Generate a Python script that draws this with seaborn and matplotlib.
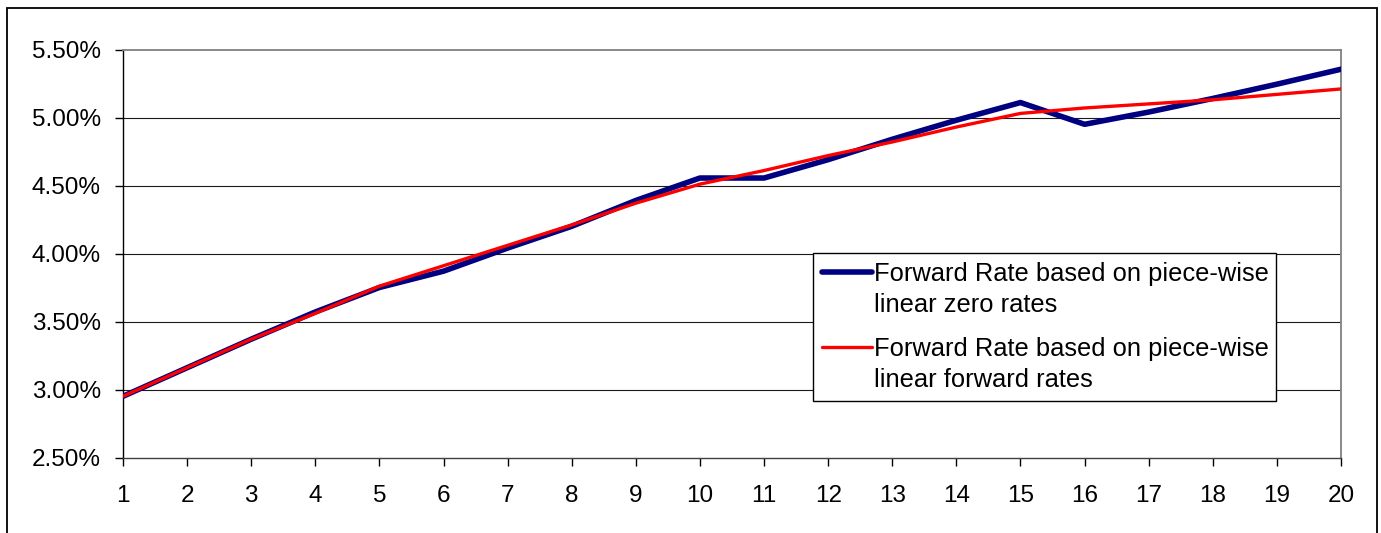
import numpy as np
import pandas as pd
import matplotlib
matplotlib.use("Agg")
import matplotlib.pyplot as plt
from matplotlib.legend_handler import HandlerLine2D
from matplotlib.patches import Rectangle
from matplotlib.ticker import FuncFormatter
import seaborn as sns

# Forward rates (%) by year, under two interpolation schemes
years = list(range(1, 21))
fwd_from_zero = [2.95, 3.16, 3.37, 3.57, 3.75, 3.87, 4.04, 4.20, 4.39, 4.555,
                 4.555, 4.69, 4.84, 4.98, 5.11, 4.95, 5.04, 5.14, 5.245, 5.355]
fwd_from_fwd = [2.95, 3.16, 3.37, 3.56, 3.76, 3.91, 4.06, 4.21, 4.37, 4.51,
                4.61, 4.72, 4.82, 4.93, 5.03, 5.07, 5.10, 5.13, 5.17, 5.21]
label_zero = "Forward Rate based on piece-wise\nlinear zero rates"
label_fwd = "Forward Rate based on piece-wise\nlinear forward rates"
y_ticks = [2.5, 3.0, 3.5, 4.0, 4.5, 5.0, 5.5]

sns.set_theme(style="white")
plt.rcParams["font.family"] = ["Liberation Sans", "DejaVu Sans"]

W, H = 1381, 533
fig = plt.figure(figsize=(W / 100, H / 100), dpi=100)
ax = fig.add_axes([123 / W, 1 - 457.5 / H, (1341 - 123) / W, (457.5 - 49.5) / H])

df_zero = pd.DataFrame({"Year": years, "Rate": fwd_from_zero})
df_fwd = pd.DataFrame({"Year": years, "Rate": fwd_from_fwd})

sns.lineplot(data=df_zero, x="Year", y="Rate", ax=ax, color="#000080",
             linewidth=4.0, solid_capstyle="round", solid_joinstyle="round",
             zorder=3, label=label_zero)
sns.lineplot(data=df_fwd, x="Year", y="Rate", ax=ax, color="#FF0000",
             linewidth=2.4, solid_capstyle="round", solid_joinstyle="round",
             zorder=4, label=label_fwd)

ax.set_xlim(1, 20)
ax.set_ylim(2.5, 5.5)
ax.set_xticks(years)
ax.set_yticks(y_ticks)
ax.yaxis.set_major_formatter(FuncFormatter(lambda v, _: f"{v:.2f}%"))
ax.set_xlabel("")
ax.set_ylabel("")

# horizontal gridlines
for yv in y_ticks[1:-1]:
    ax.axhline(yv, color="#1a1a1a", linewidth=0.8, zorder=1)

ax.tick_params(axis="both", which="major", direction="out", length=6,
               width=1.0, color="black", labelsize=17.5, labelcolor="black",
               left=True, bottom=True)
ax.tick_params(axis="y", pad=10)
ax.tick_params(axis="x", pad=14)

for side in ["left", "bottom"]:
    ax.spines[side].set_color("black")
    ax.spines[side].set_linewidth(1.0)
for side in ["top", "right"]:
    ax.spines[side].set_color("#808080")
    ax.spines[side].set_linewidth(1.3)
ax.spines["bottom"].set_color("#404040")


class FirstLineHandler(HandlerLine2D):
    """Place the legend key beside the first line of a two-line label."""

    def __init__(self, shift, **kw):
        super().__init__(**kw)
        self.shift = shift

    def create_artists(self, legend, orig_handle, xdescent, ydescent,
                       width, height, fontsize, trans):
        arts = super().create_artists(legend, orig_handle, xdescent, ydescent,
                                      width, height, fontsize, trans)
        for a in arts:
            a.set_ydata(np.asarray(a.get_ydata(), dtype=float) + self.shift * fontsize)
        return arts


handles, labels = ax.get_legend_handles_labels()
for h in handles:
    h.set_solid_capstyle("round")
leg = ax.legend(
    handles, labels,
    handler_map={h: FirstLineHandler(0.70) for h in handles},
    loc="upper left",
    bbox_to_anchor=(813 / W, 1 - 399 / H, 463 / W, 146 / H),
    bbox_transform=fig.transFigure,
    mode="expand", borderaxespad=0, borderpad=0.34,
    handlelength=1.95, handletextpad=0.1, labelspacing=0.79,
    fontsize=18.4, frameon=True, fancybox=False, shadow=False,
    framealpha=1.0, edgecolor="black", labelcolor="black",
)
for t in leg.get_texts():
    t.set_linespacing(1.37)
leg.get_frame().set_linewidth(1.0)
leg.set_zorder(10)

# outer chart border
fig.patches.append(Rectangle((7 / W, -0.05), (1377 - 7) / W, 1.05 - 8 / H,
                             transform=fig.transFigure, fill=False,
                             edgecolor="black", linewidth=1.3))

fig.savefig("out.png", dpi=100)
